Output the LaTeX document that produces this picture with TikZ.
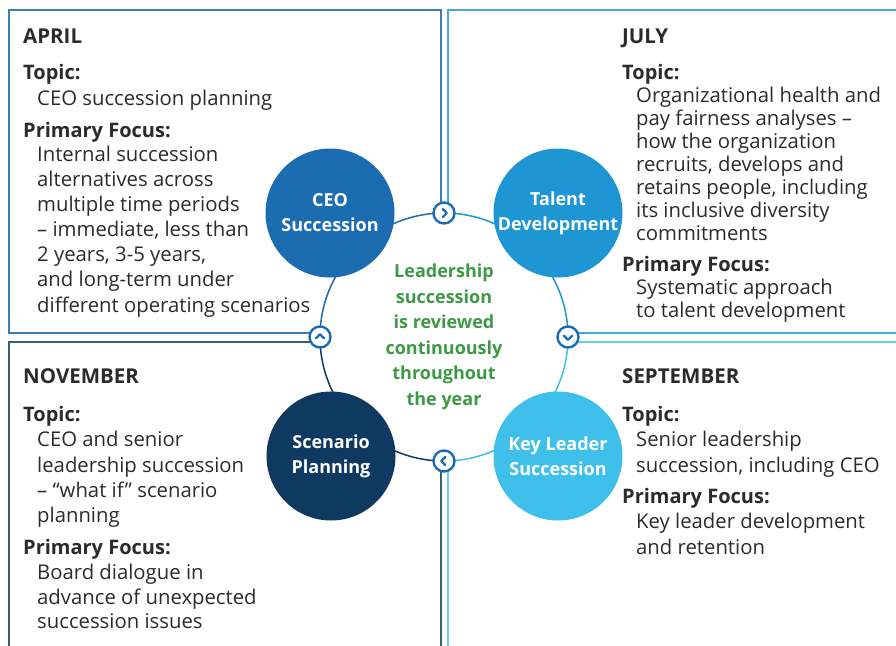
\documentclass[tikz,border=0pt]{standalone}
\usepackage{fontspec}
\setmainfont{Open Sans}
\usepackage{tikz}
\usetikzlibrary{positioning}

\definecolor{ceoblue}{HTML}{1B6CB1}
\definecolor{talentblue}{HTML}{1E96D4}
\definecolor{keyblue}{HTML}{3FC0EA}
\definecolor{scenblue}{HTML}{0E3A62}
\definecolor{aprilline}{HTML}{3D7DB5}
\definecolor{julyline}{HTML}{4AA8D9}
\definecolor{novline}{HTML}{3B5C74}
\definecolor{sepline}{HTML}{6CCDE6}
\definecolor{leafgreen}{HTML}{3C9A44}
\definecolor{ink}{HTML}{2B2B2B}

\begin{document}
\begin{tikzpicture}[x=1pt,y=-1pt,
   month/.style={anchor=base west,inner sep=0pt,text=ink,font=\fontsize{20.5}{23}\bfseries},
   topichead/.style={anchor=base west,inner sep=0pt,text=ink,font=\fontsize{20}{23}\bfseries},
   body/.style={anchor=base west,inner sep=0pt,text=ink,font=\fontsize{20.3}{23}\selectfont},
   stage/.style={circle,minimum size=129pt,inner sep=0pt,align=center,text=white,font=\fontsize{18}{25}\bfseries},
   chev/.style={circle,draw=ceoblue,line width=2.4pt,fill=white,minimum size=21pt,inner sep=0pt},
   chevline/.style={draw=ceoblue,line width=2.2pt,line cap=round,line join=round},
   boxline/.style={line width=1.6pt}]
   \useasboundingbox (0,0) rectangle (896,645);
   \clip (0,0) rectangle (896,645);
   % quarter boxes
   \draw[boxline,aprilline] (9,10) rectangle (441,333);
   \draw[boxline,julyline] (448,10) rectangle (905,333);
   \draw[boxline,novline] (9,342) rectangle (441,660);
   \draw[boxline,sepline] (448,342) rectangle (905,660);
   % ring in the middle
   \coordinate (ring) at (444,337);
   \fill[white] (ring) circle[radius=124];
   \foreach \ang/\col in {180/ceoblue, 270/talentblue, 0/keyblue, 90/scenblue}
   \draw[line width=1.5pt,\col] ([shift={(\ang:124)}]ring) arc[start angle=\ang, delta angle=90, radius=124];
   \foreach \pos/\name/\col/\disp in {{(330,213)/ceo/ceoblue/{CEO\\Succession}}, {(558,213)/talent/talentblue/{Talent\\Development}},
      {(558,456)/keylead/keyblue/{Key Leader\\Succession}}, {(331,456)/scen/scenblue/{Scenario\\Planning}}}
   \node[stage,fill=\col] (\name) at \pos {\disp};
   \foreach \ang/\name in {270/chtop, 0/chright, 90/chbot, 180/chleft}{
   \node[chev] (\name) at ([shift={(\ang:124)}]ring) {};
   \draw[chevline] (\name.center) ++(\ang+90:2.8) ++(\ang+225:6) -- ++(\ang+45:6) -- ++(\ang-45:6);
   }
   \node[align=center,text=leafgreen,font=\fontsize{18}{25.5}\bfseries] (msg) at (444,337) {Leadership\\succession\\is reviewed\\continuously\\throughout\\the year};
   % headings
   \foreach \x/\y/\t/\name in {23/43/APRIL/apr, 622/43/JULY/jul, 23/383/NOVEMBER/nov, 622/383/SEPTEMBER/sep}
   \node[month] (\name) at (\x,\y) {\t};
   \foreach \x/\y/\t/\name in {23/79/Topic:/aprtop, 23/137/Primary Focus:/aprfoc, 622/79/Topic:/jultop, 622/271/Primary Focus:/julfoc,
      23/421/Topic:/novtop, 23/554/Primary Focus:/novfoc, 622/421/Topic:/septop, 622/503/Primary Focus:/sepfoc}
   \node[topichead] (\name) at (\x,\y) {\t};
   % april
   \foreach \y/\t in {105/CEO succession planning, 161/Internal succession, 186/alternatives across, 211/multiple time periods,
      236/{– immediate, less than}, 261/{2 years, 3-5 years,}, 286/and long-term under, 312/different operating scenarios}
   \node[body] (apr\y) at (37,\y) {\t};
   % july
   \foreach \y/\t in {102/Organizational health and, 125/pay fairness analyses –, 148/how the organization, 171/{recruits, develops and},
      194/{retains people, including}, 217/its inclusive diversity, 240/commitments, 294/Systematic approach, 317/to talent development}
   \node[body] (jul\y) at (636,\y) {\t};
   % november
   \foreach \y/\t in {446/CEO and senior, 472/leadership succession, 497/– “what if” scenario, 522/planning,
      579/Board dialogue in, 604/advance of unexpected, 628/succession issues}
   \node[body] (nov\y) at (37,\y) {\t};
   % september
   \foreach \y/\t in {446/Senior leadership, 472/{succession, including CEO}, 528/Key leader development, 554/and retention}
   \node[body] (sep\y) at (636,\y) {\t};
\end{tikzpicture}
\end{document}
